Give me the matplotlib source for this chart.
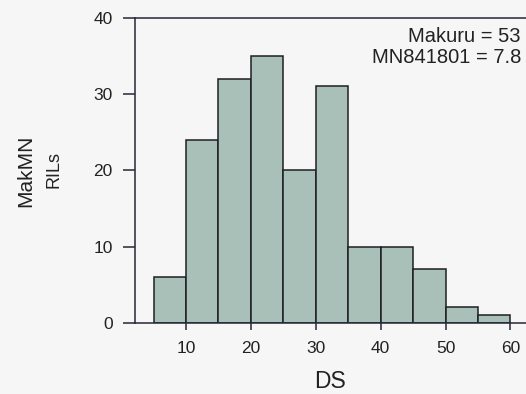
import numpy as np
import matplotlib
matplotlib.use("Agg")
import matplotlib.pyplot as plt

plt.rcParams["font.family"] = ["Liberation Sans", "DejaVu Sans"]

# histogram of DS scores, bins of width 5
bin_edges = [5, 10, 15, 20, 25, 30, 35, 40, 45, 50, 55, 60]
counts = [6, 24, 32, 35, 20, 31, 10, 10, 7, 2, 1]
xticks = [10, 20, 30, 40, 50, 60]
yticks = [0, 10, 20, 30, 40]
parents = ["Makuru = 53", "MN841801 = 7.8"]

BG = "#f6f6f6"; BAR = "#a8c0b8"; INK = "#26263a"; TXT = "#222222"

fig = plt.figure(figsize=(5.26, 3.94), dpi=100, facecolor=BG)
ax = fig.add_axes([135/526, 71.3/394, 391/526, 312.4/394], facecolor=BG)

lefts = bin_edges[:-1]
widths = np.diff(bin_edges)
ax.bar(lefts, counts, width=widths, align="edge", color=BAR, edgecolor="#1e1e24", linewidth=1.1, zorder=2)

ax.set_xlim(2.14, 62.4)
ax.set_ylim(0, 41)
for s in ["top", "right", "bottom"]:
    ax.spines[s].set_visible(False)
ax.spines["left"].set_bounds(0, 40)
ax.spines["left"].set_color(INK); ax.spines["left"].set_linewidth(1.1)
ax.axhline(0, color=INK, lw=1.1, clip_on=False, zorder=3)
ax.axhline(40, color=INK, lw=1.1, clip_on=False, zorder=3)

ax.set_xticks(xticks); ax.set_yticks(yticks)
ax.tick_params(axis="x", length=5, width=1.1, color=INK, pad=8, labelsize=12.5, labelcolor=TXT)
ax.tick_params(axis="y", length=9, width=1.1, color=INK, pad=7, labelsize=12.5, labelcolor=TXT)

ax.set_xlabel("DS", fontsize=16.5, color=TXT, labelpad=10)
fig.text(26/526, 0.566, "MakMN", rotation=90, ha="center", va="center", fontsize=15, color=TXT)
fig.text(54/526, 0.571, "RILs", rotation=90, ha="center", va="center", fontsize=13, color=TXT)

ax.text(0.987, 0.8995, parents[0], transform=ax.transAxes, ha="right", va="baseline", fontsize=14.5, color=TXT)
ax.text(0.987, 0.830, parents[1], transform=ax.transAxes, ha="right", va="baseline", fontsize=14.5, color=TXT)

fig.savefig("out.png", dpi=100, facecolor=BG)
